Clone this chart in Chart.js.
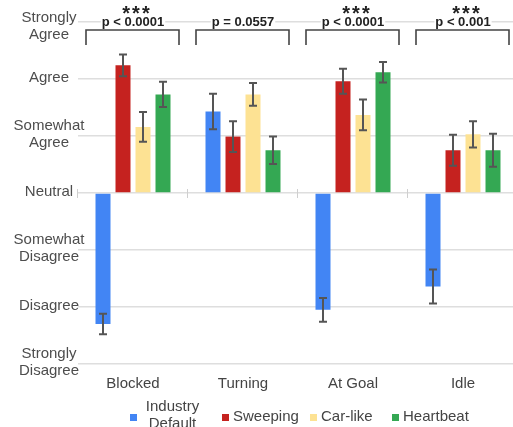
<!DOCTYPE html>
<html>
<head>
<meta charset="utf-8">
<script src="https://cdn.jsdelivr.net/npm/chart.js@4/dist/chart.umd.min.js"></script>
<style>
  html, body { margin: 0; padding: 0; background: #fff; overflow: hidden; }
  #wrap { width: 520px; height: 427px; }
</style>
</head>
<body>
<div id="wrap"><canvas id="c" width="520" height="427"></canvas></div>
<script>
const categories = ['Blocked', 'Turning', 'At Goal', 'Idle'];
const seriesNames = ['Industry Default', 'Sweeping', 'Car-like', 'Heartbeat'];
const industryDefault = [-2.30, 1.43, -2.05, -1.64];
const sweeping = [2.24, 0.99, 1.96, 0.75];
const carLike = [1.16, 1.73, 1.37, 1.03];
const heartbeat = [1.73, 0.75, 2.12, 0.75];
const industryDefaultErr = [0.18, 0.31, 0.21, 0.30];
const sweepingErr = [0.19, 0.27, 0.22, 0.27];
const carLikeErr = [0.26, 0.20, 0.27, 0.23];
const heartbeatErr = [0.22, 0.24, 0.18, 0.29];
const pLabels = ['p < 0.0001', 'p = 0.0557', 'p < 0.0001', 'p < 0.001'];
const stars = ['***', '', '***', '***'];
const yTickLabels = [['Strongly', 'Disagree'], 'Disagree', ['Somewhat', 'Disagree'], 'Neutral',
                     ['Somewhat', 'Agree'], 'Agree', ['Strongly', 'Agree']];
const colors = ['#4285F4', '#C5221F', '#FDE293', '#34A853'];

const FONT = "'Liberation Sans', Arial, sans-serif";
const seriesValues = [industryDefault, sweeping, carLike, heartbeat];
const seriesErrs = [industryDefaultErr, sweepingErr, carLikeErr, heartbeatErr];

const errorBarPlugin = {
  id: 'errorBars',
  afterDatasetsDraw(chart) {
    const ctx = chart.ctx, y = chart.scales.y;
    ctx.save();
    ctx.strokeStyle = '#555';
    ctx.lineWidth = 2;
    chart.data.datasets.forEach((ds, di) => {
      const meta = chart.getDatasetMeta(di);
      meta.data.forEach((bar, i) => {
        const v = seriesValues[di][i], e = seriesErrs[di][i];
        const y1 = y.getPixelForValue(v + e), y2 = y.getPixelForValue(v - e);
        const x = bar.x;
        ctx.beginPath();
        ctx.moveTo(x, y1); ctx.lineTo(x, y2);
        ctx.moveTo(x - 4, y1); ctx.lineTo(x + 4, y1);
        ctx.moveTo(x - 4, y2); ctx.lineTo(x + 4, y2);
        ctx.stroke();
      });
    });
    ctx.restore();
  }
};

const yLabelPlugin = {
  id: 'yLabels',
  afterDraw(chart) {
    const ctx = chart.ctx, y = chart.scales.y;
    ctx.save();
    ctx.font = '15px ' + FONT;
    ctx.fillStyle = '#4d4d4d';
    ctx.textAlign = 'center';
    ctx.textBaseline = 'middle';
    const lh = 17;
    yTickLabels.forEach((lab, k) => {
      const lines = Array.isArray(lab) ? lab : [lab];
      const py = y.getPixelForValue(k - 3) - 1.5;
      let first = py - (lines.length - 1) * lh / 2;
      if (first < 18) first = 18;
      lines.forEach((t, j) => ctx.fillText(t, 49, first + j * lh));
    });
    ctx.restore();
  }
};

const annotPlugin = {
  id: 'annot',
  beforeDatasetsDraw(chart) {
    const ctx = chart.ctx, x = chart.scales.x, y = chart.scales.y;
    const y0 = y.getPixelForValue(0);
    const half = (x.getPixelForValue(1) - x.getPixelForValue(0)) / 2;
    ctx.save();
    ctx.strokeStyle = '#cfcfcf';
    ctx.lineWidth = 1;
    for (let i = 0; i <= categories.length; i++) {
      const bx = Math.round(x.getPixelForValue(0) - half + i * 2 * half) - 0.5;
      ctx.beginPath(); ctx.moveTo(bx, y0 - 4); ctx.lineTo(bx, y0 + 5); ctx.stroke();
    }
    ctx.restore();
  },
  afterDatasetsDraw(chart) {
    const ctx = chart.ctx, x = chart.scales.x;
    const half = (x.getPixelForValue(1) - x.getPixelForValue(0)) / 2;
    ctx.save();
    categories.forEach((c, i) => {
      const cx = x.getPixelForValue(i);
      ctx.strokeStyle = '#444';
      ctx.lineWidth = 1.6;
      ctx.beginPath();
      ctx.moveTo(cx - half + 8, 45);
      ctx.lineTo(cx - half + 8, 30);
      ctx.lineTo(cx + half - 9, 30);
      ctx.lineTo(cx + half - 9, 45);
      ctx.stroke();
      ctx.font = 'bold 13px ' + FONT;
      ctx.textAlign = 'center';
      ctx.textBaseline = 'alphabetic';
      ctx.letterSpacing = '0px';
      const w = ctx.measureText(pLabels[i]).width;
      ctx.fillStyle = '#fff';
      ctx.fillRect(cx - w / 2 - 1, 17, w + 2, 11);
      ctx.fillStyle = '#222';
      ctx.fillText(pLabels[i], cx, 26);
      if (stars[i]) {
        ctx.font = 'bold 20px ' + FONT;
        ctx.letterSpacing = '2px';
        ctx.fillText(stars[i], cx + 4, 19.5);
        ctx.letterSpacing = '0px';
      }
    });
    ctx.restore();
  }
};

const legendPlugin = {
  id: 'customLegend',
  afterDraw(chart) {
    const ctx = chart.ctx;
    const boxX = [130, 222, 310, 392];
    ctx.save();
    ctx.font = '15px ' + FONT;
    ctx.textBaseline = 'middle';
    seriesNames.forEach((name, i) => {
      ctx.fillStyle = colors[i];
      ctx.fillRect(boxX[i], 414, 7, 7);
      ctx.fillStyle = '#444';
      const words = name.split(' ');
      if (i === 0 && words.length > 1) {
        ctx.textAlign = 'center';
        ctx.fillText(words[0], 172.5, 407);
        ctx.fillText(words.slice(1).join(' '), 172.5, 424);
      } else {
        ctx.textAlign = 'left';
        ctx.fillText(name, boxX[i] + 11, 417);
      }
    });
    ctx.restore();
  }
};

new Chart(document.getElementById('c'), {
  type: 'bar',
  data: {
    labels: categories,
    datasets: seriesNames.map((n, i) => ({
      label: n,
      data: seriesValues[i],
      backgroundColor: colors[i],
      borderWidth: 0,
      barPercentage: 0.75,
      categoryPercentage: 80 / 110
    }))
  },
  options: {
    responsive: false,
    animation: false,
    events: [],
    layout: { padding: { top: 22, right: 2, left: 0, bottom: 0 } },
    plugins: { legend: { display: false }, tooltip: { enabled: false } },
    scales: {
      x: {
        grid: { display: false, drawTicks: false },
        border: { display: false },
        ticks: { font: { size: 15, family: FONT }, color: '#444', padding: 11 },
        afterFit(s) { s.height = 63; }
      },
      y: {
        min: -3, max: 3,
        grid: { color: '#dedede', lineWidth: 1.5, drawTicks: false },
        border: { display: false },
        ticks: { stepSize: 1, display: false },
        afterFit(s) { s.width = 78; }
      }
    }
  },
  plugins: [errorBarPlugin, annotPlugin, legendPlugin, yLabelPlugin]
});
</script>
</body>
</html>
